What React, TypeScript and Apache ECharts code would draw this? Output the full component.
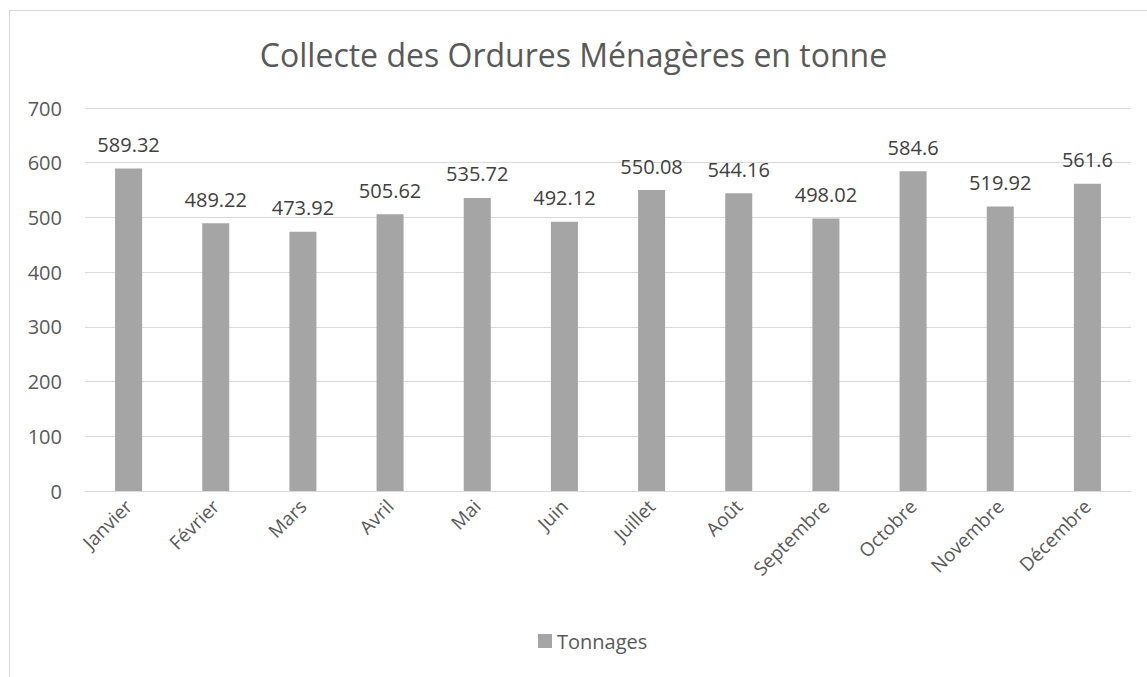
import React, { useEffect, useRef } from "react";
import * as echarts from "echarts";

const categories = ["Janvier", "Février", "Mars", "Avril", "Mai", "Juin", "Juillet", "Août", "Septembre", "Octobre", "Novembre", "Décembre"];
const tonnages = [589.32, 489.22, 473.92, 505.62, 535.72, 492.12, 550.08, 544.16, 498.02, 584.6, 519.92, 561.6];
const titleText = "Collecte des Ordures Ménagères en tonne";
const seriesName = "Tonnages";

export default function App() {
  const ref = useRef<HTMLDivElement>(null);
  useEffect(() => {
    document.body.style.margin = "0";
    const chart = echarts.init(ref.current!, null, { renderer: "svg" });
    const font = "'Open Sans', 'Noto Sans', sans-serif";
    chart.setOption({
      animation: false,
      backgroundColor: "#ffffff",
      textStyle: { fontFamily: font },
      title: {
        text: titleText,
        left: "center",
        top: 33,
        textStyle: { fontSize: 32, fontWeight: "normal", color: "#595959", fontFamily: font },
      },
      graphic: [
        { type: "line", shape: { x1: 9, y1: 10.5, x2: 1147, y2: 10.5 }, style: { stroke: "#d9d9d9", lineWidth: 1 } },
        { type: "line", shape: { x1: 9.5, y1: 10, x2: 9.5, y2: 677 }, style: { stroke: "#d9d9d9", lineWidth: 1 } },
      ],
      legend: {
        bottom: 21,
        left: 533,
        itemWidth: 14,
        itemHeight: 14,
        itemGap: 6,
        icon: "rect",
        textStyle: { fontSize: 20, color: "#595959", fontFamily: font },
        data: [seriesName],
      },
      grid: { left: 85, right: 16, top: 108, bottom: 186, containLabel: false },
      xAxis: {
        type: "category",
        data: categories,
        axisLine: { lineStyle: { color: "#d9d9d9", width: 1 } },
        axisTick: { show: false },
        axisLabel: { rotate: 45, fontSize: 19, color: "#595959", margin: 12, fontFamily: font },
      },
      yAxis: {
        type: "value",
        min: 0,
        max: 700,
        interval: 100,
        axisLine: { show: false },
        axisTick: { show: false },
        splitLine: { lineStyle: { color: "#d9d9d9", width: 1 } },
        axisLabel: { fontSize: 20, color: "#595959", margin: 23, fontFamily: font },
      },
      series: [
        {
          name: seriesName,
          type: "bar",
          data: tonnages,
          barWidth: "31%",
          itemStyle: { color: "#a5a5a5" },
          label: {
            show: true,
            position: "top",
            distance: 14,
            fontSize: 20,
            color: "#404040",
            fontFamily: font,
          },
        },
      ],
    });
    return () => chart.dispose();
  }, []);
  return <div ref={ref} style={{ width: 1147, height: 677, position: "absolute", left: 0, top: 0 }} />;
}
